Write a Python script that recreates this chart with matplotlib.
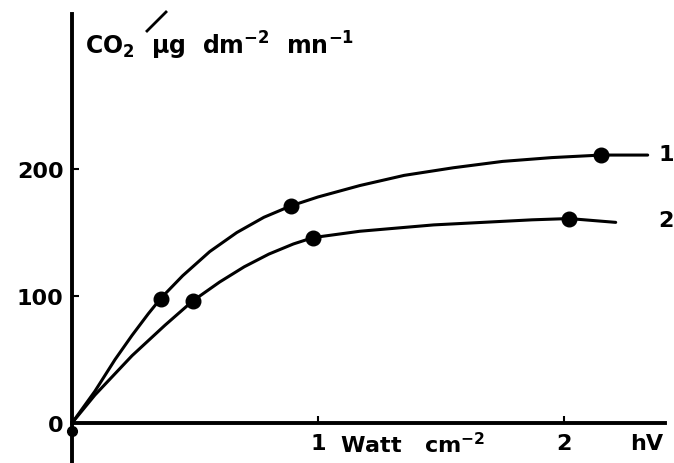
import matplotlib.pyplot as plt
from matplotlib.lines import Line2D

# measured points (dots)
pts1_x = [0.36, 0.89, 2.15]
pts1_y = [98, 171, 211]
pts2_x = [0.49, 0.98, 2.02]
pts2_y = [96, 146, 161]
origin_x = [0]
origin_y = [-6]

# traced curves
curve1_x = [0, 0.093, 0.175, 0.244, 0.31, 0.36, 0.45, 0.56, 0.67, 0.78, 0.89, 1.0, 1.17,
            1.35, 1.55, 1.75, 1.95, 2.15, 2.34]
curve1_y = [0, 25, 50, 69, 86, 98, 116, 135, 150, 162, 171, 178, 187,
            195, 201, 206, 209, 211, 211]
curve2_x = [0, 0.093, 0.244, 0.378, 0.49, 0.60, 0.70, 0.80, 0.90, 0.98, 1.17, 1.47, 1.87, 2.02, 2.21]
curve2_y = [0, 22, 53, 77, 96, 111, 123, 133, 141, 146, 151, 156, 160, 161, 158]

xticks = [1, 2]
xticklabels = ["1", "2"]
yticks = [0, 100, 200]
yticklabels = ["0", "100", "200"]

plt.rcParams['font.family'] = ['DejaVu Sans']
plt.rcParams['font.weight'] = 'bold'
plt.rcParams['mathtext.default'] = 'bf'

fig = plt.figure(figsize=(6.74, 4.64), dpi=100)
ax = fig.add_axes([72 / 674, 0, 602 / 674, 1])
ax.set_xlim(0, 2.447)
ax.set_ylim(-31.5, 333.9)

lw = 2.2
ax.plot(curve1_x, curve1_y, color="black", lw=lw, solid_capstyle="round", solid_joinstyle="round")
ax.plot(curve2_x, curve2_y, color="black", lw=lw, solid_capstyle="round", solid_joinstyle="round")
ax.plot(pts1_x, pts1_y, "o", color="black", ms=10.5)
ax.plot(pts2_x, pts2_y, "o", color="black", ms=10.5)
ax.plot(origin_x, origin_y, "o", color="black", ms=7, clip_on=False)

for s in ["top", "right"]:
    ax.spines[s].set_visible(False)
ax.spines["left"].set_position(("data", 0))
ax.spines["bottom"].set_position(("data", 0))
ax.spines["left"].set_bounds(-32, 322)
ax.spines["bottom"].set_bounds(0, 2.41)
ax.spines["left"].set_linewidth(2.8)
ax.spines["bottom"].set_linewidth(2.8)

ax.set_xticks(xticks)
ax.set_xticklabels(xticklabels, fontsize=16, fontweight="bold")
ax.set_yticks(yticks)
ax.set_yticklabels(yticklabels, fontsize=16, fontweight="bold")
ax.tick_params(axis="x", direction="in", length=5, width=1.5, pad=7)
ax.tick_params(axis="y", direction="in", length=5, width=1.5, pad=6)

ax.text(1.088, -16, "Watt   cm$^{-2}$", fontsize=16, fontweight="bold", va="center", ha="left")
ax.text(2.27, -16, "hV", fontsize=16, fontweight="bold", va="center", ha="left")
ax.text(2.385, 212, "1", fontsize=16, fontweight="bold", va="center", ha="left")
ax.text(2.385, 160, "2", fontsize=16, fontweight="bold", va="center", ha="left")
ax.text(0.053, 298, r"CO$_2$  µg  dm$^{-2}$  mn$^{-1}$", fontsize=17,
        fontweight="bold", va="center", ha="left")

# slash over the CO2
fig.add_artist(Line2D([147 / 674, 166 / 674], [1 - 32 / 464, 1 - 13 / 464], color="black", lw=2))

fig.savefig("out.png", dpi=100)
